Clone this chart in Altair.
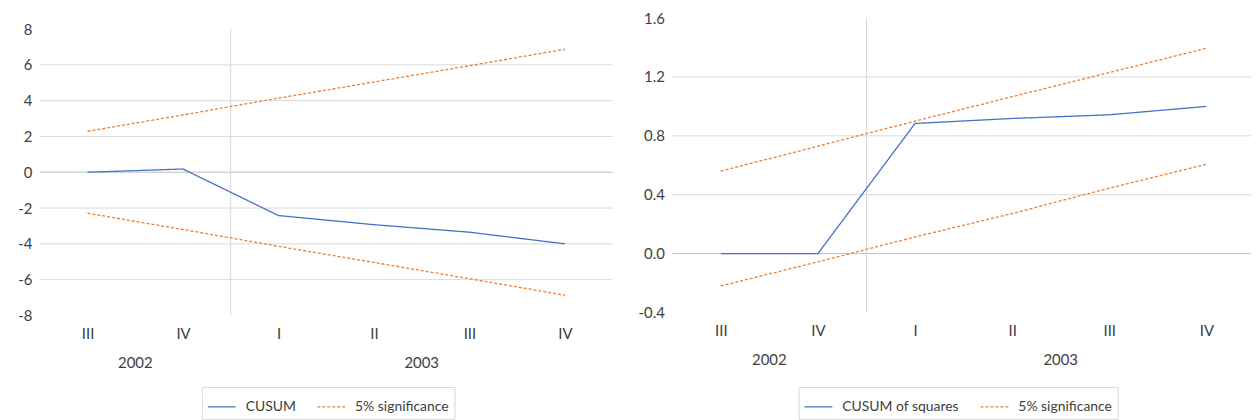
import json
import altair as alt
import pandas as pd

quarters = ["III", "IV", "I", "II", "III", "IV"]
years = ["2002", "2003"]
year_counts = [2, 4]

cusum = [0.0, 0.18, -2.42, -2.93, -3.35, -4.0]
cusum_upper = [2.29, 3.2, 4.14, 5.04, 5.95, 6.87]
cusum_lower = [-2.29, -3.2, -4.14, -5.04, -5.95, -6.87]

cusumsq = [0.0, 0.0, 0.884, 0.918, 0.943, 1.0]
cusumsq_upper = [0.56, 0.73, 0.90, 1.066, 1.23, 1.395]
cusumsq_lower = [-0.22, -0.056, 0.113, 0.272, 0.444, 0.607]

left_ticks = [-8, -6, -4, -2, 0, 2, 4, 6, 8]
left_grid = [-6, -4, -2, 2, 4, 6]
right_ticks = [-0.4, 0.0, 0.4, 0.8, 1.2, 1.6]
right_grid = [0.4, 0.8, 1.2]

SIG = "5% significance"
BLUE = "#4472C4"
ORANGE = "#ED7D31"
FONT = "Lato"
TXT = "#404040"


def make_panel(main_name, main_vals, upper, lower, ticks, grid_vals, fmt,
               width, height, top_pad, right_cut, axis_extent, legend_x,
               legend_y):
    rows = []
    for i, v in enumerate(main_vals):
        rows.append({"idx": i, "value": v, "series": main_name, "part": "main"})
    for i, v in enumerate(upper):
        rows.append({"idx": i, "value": v, "series": SIG, "part": "upper"})
    for i, v in enumerate(lower):
        rows.append({"idx": i, "value": v, "series": SIG, "part": "lower"})
    df = pd.DataFrame(rows)

    n = len(quarters)
    span = ticks[-1] - ticks[0]
    plot_h = height - top_pad
    ymax = ticks[-1] + span * top_pad / plot_h
    xscale = alt.Scale(domain=[-0.5, n - 0.5 - right_cut], nice=False,
                       zero=False)
    yscale = alt.Scale(domain=[ticks[0], ymax], nice=False, zero=False)

    xaxis = alt.Axis(
        values=list(range(n)),
        labelExpr=json.dumps(quarters) + "[datum.value]",
        grid=False, domain=False, ticks=False, title=None,
        labelPadding=11, labelFontSize=15, labelColor=TXT, labelFont=FONT)
    yaxis = alt.Axis(
        values=ticks, format=fmt,
        labelExpr="replace(datum.label, '\u2212', '-')",
        grid=False, domain=False, ticks=False,
        title=None, labelPadding=8, labelFontSize=15, labelColor=TXT,
        labelFont=FONT, minExtent=axis_extent, maxExtent=axis_extent)

    starts = [sum(year_counts[:k]) for k in range(len(year_counts))]
    year_df = pd.DataFrame({
        "year": years,
        "center": [s + (c - 1) / 2 for s, c in zip(starts, year_counts)],
    })
    bound_df = pd.DataFrame({
        "b": [s - 0.5 for s in starts[1:]],
        "top": [ticks[-1]] * (len(starts) - 1),
        "bot": [ticks[0]] * (len(starts) - 1),
    })

    legend = alt.Legend(
        title=None, orient="none", legendX=legend_x, legendY=legend_y,
        direction="horizontal", symbolType="stroke", symbolSize=780,
        symbolStrokeWidth=1.3, labelFontSize=14, labelColor=TXT,
        labelFont=FONT, strokeColor="#D9D9D9", padding=5, columnPadding=18,
        labelOffset=9, fillColor="white", labelLimit=300,
    )

    grid = alt.Chart(pd.DataFrame({"g": grid_vals})).mark_rule(
        color="#D9D9D9", strokeWidth=1
    ).encode(y=alt.Y("g:Q", scale=yscale, axis=yaxis))

    zero = alt.Chart(pd.DataFrame({"z": [0]})).mark_rule(
        color="#BFBFBF", strokeWidth=1
    ).encode(y=alt.Y("z:Q", scale=yscale, axis=yaxis))

    sep = alt.Chart(bound_df).mark_rule(color="#D9D9D9", strokeWidth=1).encode(
        x=alt.X("b:Q", scale=xscale, axis=xaxis),
        y=alt.Y("top:Q", scale=yscale, axis=yaxis),
        y2="bot:Q",
    )

    lines = alt.Chart(df).mark_line(strokeWidth=1.3).encode(
        x=alt.X("idx:Q", scale=xscale, axis=xaxis),
        y=alt.Y("value:Q", scale=yscale, axis=yaxis),
        color=alt.Color("series:N", scale=alt.Scale(
            domain=[main_name, SIG], range=[BLUE, ORANGE]), legend=legend),
        strokeDash=alt.StrokeDash("series:N", scale=alt.Scale(
            domain=[main_name, SIG], range=[[1, 0], [3, 2]]), legend=legend),
        detail="part:N",
        order="idx:Q",
    )

    ytext = alt.Chart(year_df).mark_text(
        fontSize=15, color=TXT, font=FONT, baseline="middle"
    ).encode(
        x=alt.X("center:Q", scale=xscale, axis=xaxis),
        y=alt.value(height + 48),
        text="year:N",
    )

    return alt.layer(grid, zero, sep, lines, ytext).properties(
        width=width, height=height)


left = make_panel("CUSUM", cusum, cusum_upper, cusum_lower, left_ticks,
                  left_grid, "d", 576, 299, 11, 0.0, 27, 163, 371)
right = make_panel("CUSUM of squares", cusumsq, cusumsq_upper, cusumsq_lower,
                   right_ticks, right_grid, ".1f", 582, 296, 0, 0.04, 40,
                   127, 371)

chart = alt.hconcat(left, right, spacing=19).resolve_scale(
    color="independent", strokeDash="independent", x="independent",
    y="independent"
).resolve_legend(color="independent", strokeDash="independent").properties(
    padding={"left": 5, "top": 2, "right": 0, "bottom": 0}
).configure_view(stroke=None)

chart.save("out.html", embed_options={"renderer": "svg", "actions": False})
